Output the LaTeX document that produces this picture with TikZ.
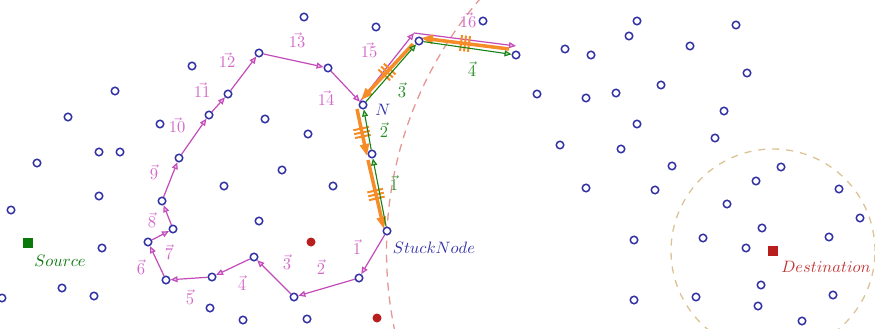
\documentclass[tikz,border=0pt]{standalone}
\usetikzlibrary{arrows.meta,decorations.markings}
\definecolor{nblue}{RGB}{50,50,165}
\definecolor{ppath}{RGB}{195,75,185}
\definecolor{plabel}{RGB}{210,105,200}
\definecolor{gpath}{RGB}{20,130,20}
\definecolor{glabel}{RGB}{40,140,40}
\definecolor{opath}{RGB}{245,140,40}
\definecolor{rdot}{RGB}{185,30,30}
\definecolor{rarc}{RGB}{230,150,150}
\definecolor{beige}{RGB}{220,195,150}
\definecolor{srcgreen}{RGB}{10,120,10}
\pgfdeclarelayer{bg}
\pgfsetlayers{bg,main}
\begin{document}
\begin{tikzpicture}[x=1pt,y=-1pt,
  vert/.style={circle,draw=nblue,line width=1.5pt,minimum size=7.5pt,inner sep=0pt,fill=white},
  reddot/.style={circle,fill=rdot,minimum size=9pt,inner sep=0pt},
  sq/.style={rectangle,minimum size=10.5pt,inner sep=0pt},
  ppl/.style={draw=ppath,line width=1.2pt,-{Triangle[length=7pt,width=6pt,fill=ppath!35]}},
  gpl/.style={draw=gpath,line width=1.1pt,-{Triangle[length=7pt,width=6pt,fill=gpath!35]}},
  opl/.style={draw=opath,line width=3.5pt,-{Triangle[length=12pt,width=9pt,fill=opath]},
    postaction={decorate},
    decoration={markings, mark=at position 0.5 with {
      \foreach \d in {-4,0,4} \draw[opath,line width=2pt,-] (\d pt,-8pt) -- (\d pt,8pt);}}},
  lbl/.style={scale=1.65,inner sep=0.5pt},
  plab/.style={lbl,text=plabel},
  glab/.style={lbl,text=glabel}
]
\useasboundingbox (0,0) rectangle (875,329);

% special nodes
\node[sq,fill=srcgreen] (src) at (28,243) {};
\node[sq,fill=rdot] (dest) at (773,251) {};
\node[lbl,text=srcgreen] (srct) at (60,261) {$Source$};
\node[lbl,text=rdot!90] (destt) at (826,267) {$Destination$};
\node[reddot] (r1) at (311,242) {};
\node[reddot] (r2) at (377,318) {};

% path vertices
\node[vert] (S) at (387,231) {};
\node[vert] (p1) at (359,278) {};
\node[vert] (p2) at (294,297) {};
\node[vert] (p3) at (254,257) {};
\node[vert] (p4) at (212,277) {};
\node[vert] (p5) at (166,280) {};
\node[vert] (p6) at (148,242) {};
\node[vert] (p7) at (173,229) {};
\node[vert] (p8) at (162,201) {};
\node[vert] (p9) at (179,158) {};
\node[vert] (p10) at (209,115) {};
\node[vert] (p11) at (228,94) {};
\node[vert] (p12) at (259,53) {};
\node[vert] (p13) at (328,68) {};
\node[vert] (N) at (363,105) {};
\node[vert] (B) at (372,154) {};
\node[vert] (C) at (419,41) {};
\node[vert] (D) at (516,55) {};
\coordinate (c15) at (414,33);
\coordinate (c16) at (516,46);

% other vertices
\foreach \x/\y [count=\i] in {304/17,376/27,483/21,192/66,115/91,68/117,160/124,265/119,99/152,120/152,
  37/163,282/170,308/134,333/186,224/186,259/221,99/196,11/210,102/248,62/288,94/296,2/298,210/308,243/320,307/319,
  637/21,736/25,629/36,565/49,591/55,690/46,747/73,537/94,586/98,616/93,661/85,724/111,637/124,560/145,621/149,
  715/138,672/166,781/167,586/188,655/190,756/181,839/189,727/204,860/218,762/228,829/237,634/240,703/238,746/248,
  761/285,833/295,634/300,696/297,758/306,802/321}
  \node[vert] (v\i) at (\x,\y) {};

% labels
\node[lbl,text=nblue] (Nt) at (383,110) {$N$};
\node[lbl,text=nblue] (St) at (434,248) {$StuckNode$};
\foreach \t/\x/\y in {1/357/247,2/321/267,3/287/262,4/242/283,5/190/297,6/141/267,7/169/252,8/152/220,
  9/154/172,10/177/125,11/202/90,12/227/60,13/297/40,14/326/98,15/369/50,16/468/20}
  \node[plab] (pl\t) at (\x,\y) {$\vec{\t}$};
\foreach \t/\x/\y in {1/394/183,2/384/130,3/402/90,4/472/69}
  \node[glab] (gl\t) at (\x,\y) {$\vec{\t}$};

\begin{pgfonlayer}{bg}
\begin{scope}
\clip (0,0) rectangle (875,329);
\draw[rarc,line width=1.3pt,dash pattern=on 8pt off 6pt] (dest) circle (386.5pt);
\draw[beige,line width=1.3pt,dash pattern=on 7pt off 7pt] (dest) circle (102pt);

% pink perimeter path
\draw[ppl] (S) -- (p1);
\draw[ppl] (p1) -- (p2);
\draw[ppl] (p2) -- (p3);
\draw[ppl] (p3) -- (p4);
\draw[ppl] (p4) -- (p5);
\draw[ppl] (p5) -- (p6);
\draw[ppl] (p6) -- (p7);
\draw[ppl] (p7) -- (p8);
\draw[ppl] (p8) -- (p9);
\draw[ppl] (p9) -- (p10);
\draw[ppl] (p10) -- (p11);
\draw[ppl] (p11) -- (p12);
\draw[ppl] (p12) -- (p13);
\draw[ppl] (p13) -- (N);
\draw[ppl] (N.north west) -- (c15);
\draw[ppl] (c15) -- (c16);

% orange backtrack
\coordinate (o4a) at (509,49);
\coordinate (o4b) at (421,38);
\coordinate (o3a) at (413,44);
\coordinate (o3b) at (361,100);
\coordinate (o2a) at (357,109);
\coordinate (o2b) at (367,156);
\coordinate (o1a) at (368,160);
\coordinate (o1b) at (384,229);
\draw[opl] (o4a) -- (o4b);
\draw[opl] (o3a) -- (o3b);
\draw[opl] (o2a) -- (o2b);
\draw[opl] (o1a) -- (o1b);

% green greedy path
\draw[gpl] (S) -- (B);
\draw[gpl] (B) -- (N);
\draw[gpl] (N) -- (C);
\draw[gpl] (C) -- (D);
\end{scope}
\end{pgfonlayer}
\end{tikzpicture}
\end{document}
